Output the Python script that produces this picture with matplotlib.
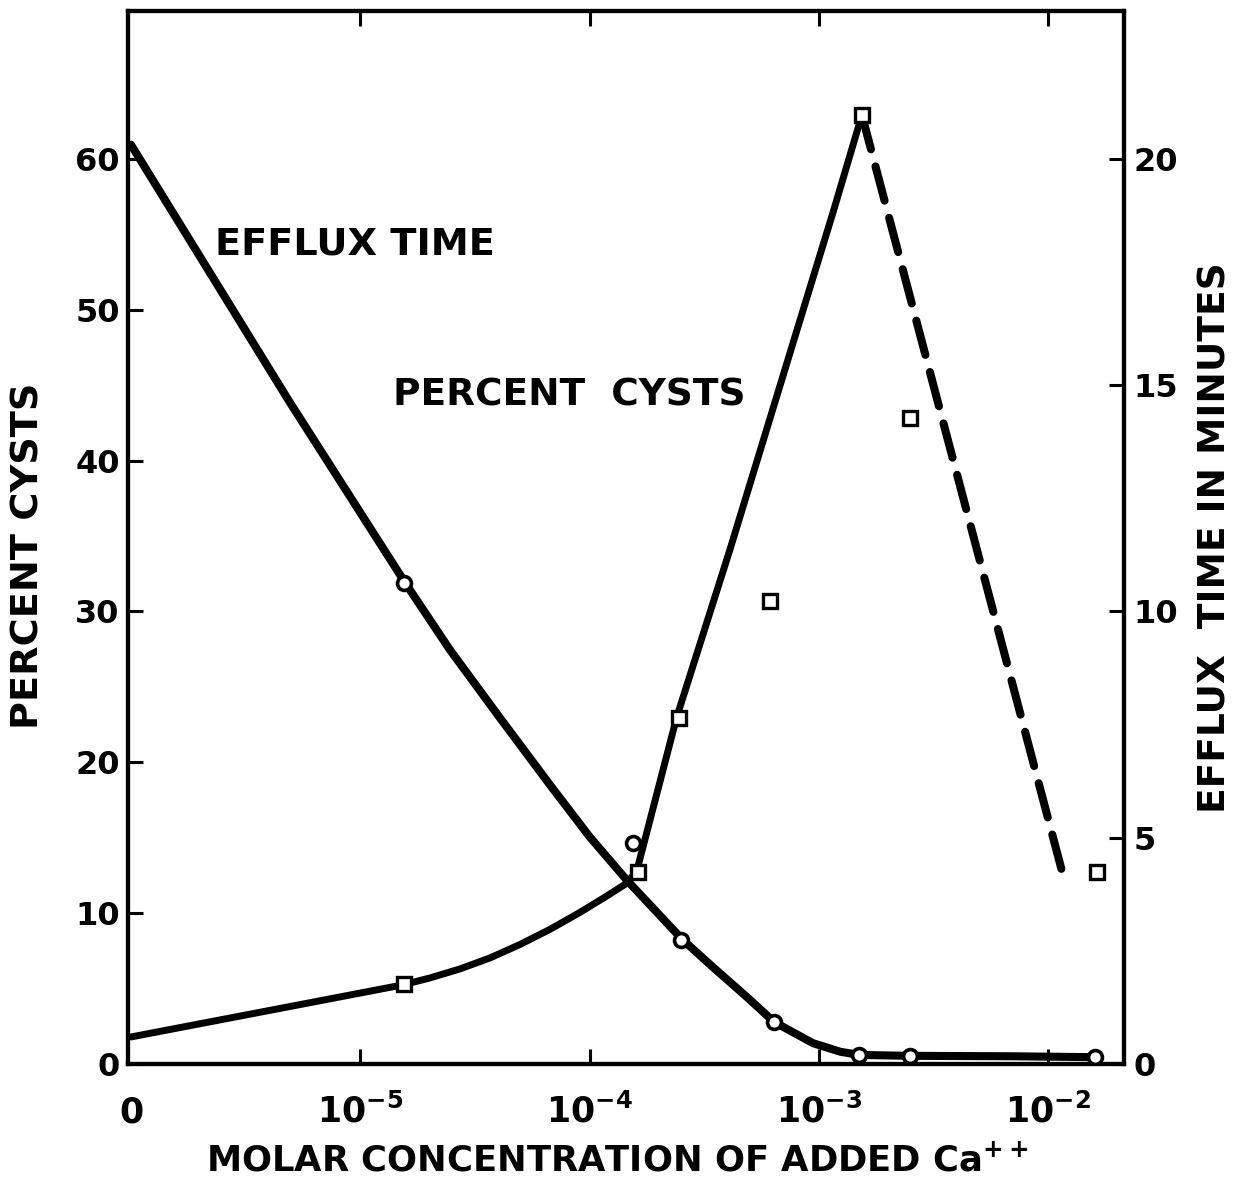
import numpy as np
import matplotlib
matplotlib.use("Agg")
import matplotlib.pyplot as plt
from matplotlib.ticker import FixedLocator, NullLocator

plt.rcParams["font.family"] = "DejaVu Sans"
plt.rcParams["font.weight"] = "bold"
plt.rcParams["mathtext.fontset"] = "dejavusans"
plt.rcParams["mathtext.default"] = "bf"

# Efflux time (minutes, right axis), open circles.
efflux_conc = [1.55e-5, 1.55e-4, 2.5e-4, 6.4e-4, 1.5e-3, 2.5e-3, 1.6e-2]
efflux_min = [10.63, 4.89, 2.74, 0.93, 0.20, 0.18, 0.15]

# Hand drawn efflux curve.
efflux_line_conc = [0, 6.9e-6, 1.57e-5, 2.46e-5, 4.06e-5, 6.71e-5, 1.0e-4,
                    1.46e-4, 2.55e-4, 3.45e-4, 4.85e-4, 6.37e-4, 9.42e-4,
                    1.24e-3, 1.5e-3, 2.49e-3, 7.0e-3, 1.6e-2]
efflux_line_min = [20.31, 14.64, 10.63, 9.15, 7.65, 6.17, 5.02,
                   4.05, 2.74, 2.14, 1.48, 0.93, 0.46,
                   0.27, 0.20, 0.18, 0.17, 0.15]

# Percent cysts (left axis), open squares.
cysts_conc = [1.55e-5, 1.63e-4, 2.45e-4, 6.1e-4, 1.54e-3, 2.5e-3, 1.63e-2]
cysts_pct = [5.3, 12.7, 22.9, 30.7, 62.9, 42.8, 12.7]

cysts_line_conc = [0, 1.53e-5, 2.01e-5, 2.72e-5, 3.68e-5, 4.97e-5, 6.71e-5,
                   9.08e-5, 1.17e-4, 1.46e-4, 1.61e-4, 2.40e-4, 4.09e-4,
                   8.27e-4, 1.15e-3, 1.54e-3]
cysts_line_pct = [1.79, 5.24, 5.70, 6.30, 7.03, 7.92, 8.92,
                  10.05, 11.07, 12.0, 12.86, 23.0, 34.08,
                  49.3, 56.4, 62.9]

# dashed part after the peak
cysts_dash_conc = [1.54e-3, 1.18e-2]
cysts_dash_pct = [62.9, 12.1]

x_ticks = [0, 1e-5, 1e-4, 1e-3, 1e-2]
x_ticklabels = ["0", r"$10^{-5}$", r"$10^{-4}$", r"$10^{-3}$", r"$10^{-2}$"]
left_ticks = [0, 10, 20, 30, 40, 50, 60]
right_ticks = [0, 5, 10, 15, 20]

fig = plt.figure(figsize=(12.55, 11.88), dpi=100)
ax = fig.add_axes([0.102, 0.1044, 0.7936, 0.8864])
ax2 = ax.twinx()

# 0 sits one decade left of 1e-5
ax.set_xscale("symlog", linthresh=1e-5, linscale=0.9)
ax.set_xlim(-1.3e-7, 0.0214)
ax.set_ylim(0, 69.8)
ax2.set_ylim(0, 69.8 / 3)

# cysts axes on top so all markers sit above both lines
ax.set_zorder(ax2.get_zorder() + 1)
ax.patch.set_visible(False)

ax2.plot(efflux_line_conc, efflux_line_min, color="black", lw=5.8,
         solid_capstyle="round", solid_joinstyle="round")

ax.plot(cysts_line_conc, cysts_line_pct, color="black", lw=5.0,
        solid_capstyle="round", solid_joinstyle="round")
ax.plot(cysts_dash_conc, cysts_dash_pct, color="black", lw=5.8,
        dashes=(4.4, 2.2), dash_capstyle="round")

ax.plot(efflux_conc, efflux_min, "o", transform=ax2.transData,
        ms=10, mfc="white", mec="black", mew=2.6, zorder=5)
ax.plot(cysts_conc, cysts_pct, "s", ms=9.5, mfc="white", mec="black",
        mew=2.4, zorder=5)

# axes, ticks
for a in (ax, ax2):
    for s in a.spines.values():
        s.set_linewidth(3.0)

ax.xaxis.set_major_locator(FixedLocator(x_ticks))
ax.xaxis.set_minor_locator(NullLocator())
ax.set_xticklabels(x_ticklabels, va="baseline")
ax.tick_params(axis="x", which="major", direction="in", length=11, width=2.2,
               top=True, labelsize=25, pad=42)
first = ax.xaxis.get_major_ticks()[0]
first.tick1line.set_visible(False)
first.tick2line.set_visible(False)

ax.set_yticks(left_ticks)
ax.tick_params(axis="y", direction="in", length=11, width=2.2,
               labelsize=23, pad=6)
ax2.set_yticks(right_ticks)
ax2.tick_params(axis="y", direction="in", length=11, width=2.2,
                labelsize=23, pad=7)

ax.set_xlabel(r"MOLAR CONCENTRATION OF ADDED Ca$^{++}$", fontsize=25.5,
              fontweight="bold")
ax.xaxis.set_label_coords(0.491, -0.075)
ax.set_ylabel("PERCENT CYSTS", fontsize=27.5, fontweight="bold")
ax.yaxis.set_label_coords(-0.082, 0.483)
ax2.set_ylabel("EFFLUX  TIME IN MINUTES", fontsize=27, fontweight="bold",
               rotation=90)
ax2.yaxis.set_label_coords(1.074, 0.5)

ax.text(0.087, 0.778, "EFFLUX TIME", transform=ax.transAxes, fontsize=27.5,
        fontweight="bold", va="center", ha="left")
ax.text(0.266, 0.635, "PERCENT  CYSTS", transform=ax.transAxes, fontsize=27,
        fontweight="bold", va="center", ha="left")

fig.savefig("out.png", dpi=100)
